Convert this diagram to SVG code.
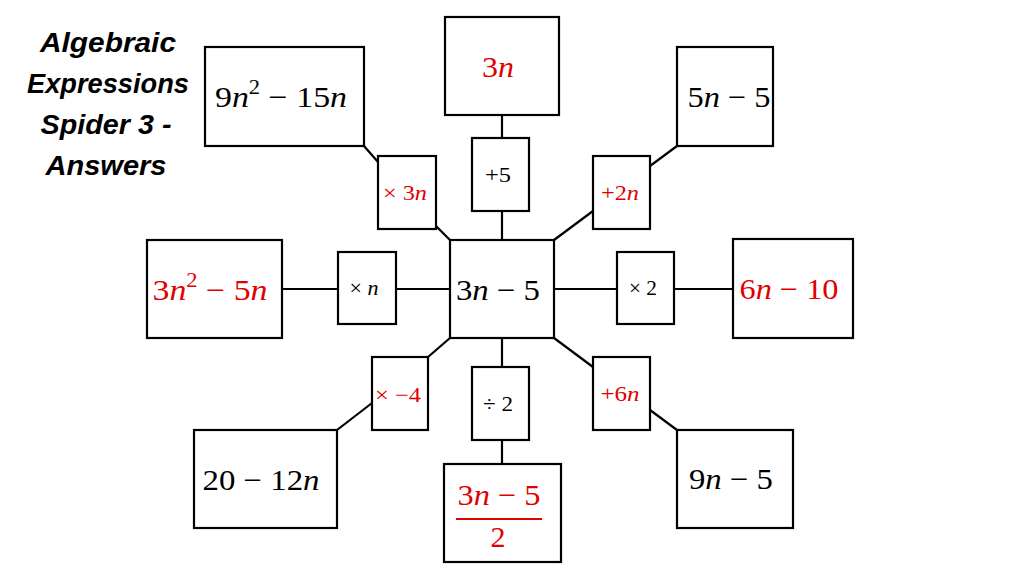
<svg xmlns="http://www.w3.org/2000/svg" width="1024" height="576" viewBox="0 0 1024 576">
<style>
.box{fill:#fff;stroke:#000;stroke-width:2.2}
.ln{stroke:#000;stroke-width:2.2;fill:none}
.t{font-family:"Liberation Serif","DejaVu Serif",serif;font-size:30px;text-anchor:middle;fill:#000}
.s{font-family:"Liberation Serif","DejaVu Serif",serif;font-size:21px;text-anchor:middle;fill:#000}
.r{fill:#e00000}
.i{font-style:italic}
.title{font-family:"Liberation Sans",Arial,sans-serif;font-size:28px;font-weight:bold;font-style:italic;text-anchor:middle;fill:#000}
</style>
<rect width="1024" height="576" fill="#fff"/>
<g id="title">
<text class="title" x="108" y="52" textLength="136" lengthAdjust="spacingAndGlyphs">Algebraic</text>
<text class="title" x="108" y="93" textLength="162" lengthAdjust="spacingAndGlyphs">Expressions</text>
<text class="title" x="106" y="134" textLength="131" lengthAdjust="spacingAndGlyphs">Spider 3 -</text>
<text class="title" x="106" y="175" textLength="121" lengthAdjust="spacingAndGlyphs">Answers</text>
</g>
<g id="connectors">
<line class="ln" x1="364" y1="146" x2="378" y2="162"/>
<line class="ln" x1="436" y1="226" x2="450" y2="240"/>
<line class="ln" x1="502" y1="115" x2="502" y2="138"/>
<line class="ln" x1="502" y1="211" x2="502" y2="239"/>
<line class="ln" x1="677" y1="146" x2="650" y2="166"/>
<line class="ln" x1="593" y1="211" x2="554" y2="240"/>
<line class="ln" x1="282" y1="289" x2="338" y2="289"/>
<line class="ln" x1="396" y1="289" x2="450" y2="289"/>
<line class="ln" x1="554" y1="289" x2="617" y2="289"/>
<line class="ln" x1="674" y1="289" x2="733" y2="289"/>
<line class="ln" x1="450" y1="338" x2="428" y2="357"/>
<line class="ln" x1="372" y1="403" x2="337" y2="430"/>
<line class="ln" x1="502" y1="338" x2="502" y2="367"/>
<line class="ln" x1="502" y1="440" x2="502" y2="464"/>
<line class="ln" x1="554" y1="338" x2="593" y2="367"/>
<line class="ln" x1="650" y1="410" x2="677" y2="430"/>
</g>
<g id="n-center">
<rect class="box" x="450" y="240" width="104" height="98"/>
<text class="t" x="498" y="300" textLength="84" lengthAdjust="spacingAndGlyphs">3<tspan class="i">n</tspan> − 5</text>
</g>
<g id="n-topleft">
<rect class="box" x="205" y="47" width="159" height="99"/>
<text class="t" x="281" y="107" textLength="132" lengthAdjust="spacingAndGlyphs">9<tspan class="i">n</tspan><tspan font-size="20" dy="-13">2</tspan><tspan dy="13"> − 15</tspan><tspan class="i">n</tspan></text>
</g>
<g id="n-top">
<rect class="box" x="445" y="17" width="114" height="98"/>
<text class="t r" x="498" y="77" textLength="32" lengthAdjust="spacingAndGlyphs">3<tspan class="i">n</tspan></text>
</g>
<g id="n-topright">
<rect class="box" x="677" y="47" width="96" height="99"/>
<text class="t" x="729" y="107" textLength="83" lengthAdjust="spacingAndGlyphs">5<tspan class="i">n</tspan> − 5</text>
</g>
<g id="n-left">
<rect class="box" x="147" y="240" width="135" height="98"/>
<text class="t r" x="210" y="300" textLength="115" lengthAdjust="spacingAndGlyphs">3<tspan class="i">n</tspan><tspan font-size="20" dy="-13">2</tspan><tspan dy="13"> − 5</tspan><tspan class="i">n</tspan></text>
</g>
<g id="n-right">
<rect class="box" x="733" y="239" width="120" height="99"/>
<text class="t r" x="789" y="299" textLength="99" lengthAdjust="spacingAndGlyphs">6<tspan class="i">n</tspan> − 10</text>
</g>
<g id="n-bottomleft">
<rect class="box" x="194" y="430" width="143" height="98"/>
<text class="t" x="261" y="490" textLength="117" lengthAdjust="spacingAndGlyphs">20 − 12<tspan class="i">n</tspan></text>
</g>
<g id="n-bottom">
<rect class="box" x="444" y="464" width="117" height="98"/>
<text class="t r" x="499" y="505" textLength="83" lengthAdjust="spacingAndGlyphs">3<tspan class="i">n</tspan> − 5</text>
<line x1="456" y1="519" x2="542" y2="519" stroke="#e00000" stroke-width="2"/>
<text class="t r" x="498" y="547">2</text>
</g>
<g id="n-bottomright">
<rect class="box" x="677" y="430" width="116" height="98"/>
<text class="t" x="731" y="489" textLength="84" lengthAdjust="spacingAndGlyphs">9<tspan class="i">n</tspan> − 5</text>
</g>
<g id="op-times3n">
<rect class="box" x="378" y="156" width="58" height="73"/>
<text class="s r" x="405" y="200" textLength="44" lengthAdjust="spacingAndGlyphs">× 3<tspan class="i">n</tspan></text>
</g>
<g id="op-plus5">
<rect class="box" x="472" y="138" width="57" height="73"/>
<text class="s" x="498" y="182" textLength="26" lengthAdjust="spacingAndGlyphs">+5</text>
</g>
<g id="op-plus2n">
<rect class="box" x="593" y="156" width="57" height="73"/>
<text class="s r" x="620" y="200" textLength="38" lengthAdjust="spacingAndGlyphs">+2<tspan class="i">n</tspan></text>
</g>
<g id="op-timesn">
<rect class="box" x="338" y="252" width="58" height="72"/>
<text class="s" x="364" y="295" textLength="29" lengthAdjust="spacingAndGlyphs">× <tspan class="i">n</tspan></text>
</g>
<g id="op-times2">
<rect class="box" x="617" y="252" width="57" height="72"/>
<text class="s" x="643" y="295" textLength="28" lengthAdjust="spacingAndGlyphs">× 2</text>
</g>
<g id="op-timesminus4">
<rect class="box" x="372" y="357" width="56" height="73"/>
<text class="s r" x="398" y="402" textLength="46" lengthAdjust="spacingAndGlyphs">× −4</text>
</g>
<g id="op-div2">
<rect class="box" x="472" y="367" width="57" height="73"/>
<text class="s" x="498" y="411" textLength="30" lengthAdjust="spacingAndGlyphs">÷ 2</text>
</g>
<g id="op-plus6n">
<rect class="box" x="593" y="357" width="57" height="73"/>
<text class="s r" x="620" y="401" textLength="39" lengthAdjust="spacingAndGlyphs">+6<tspan class="i">n</tspan></text>
</g>
</svg>
